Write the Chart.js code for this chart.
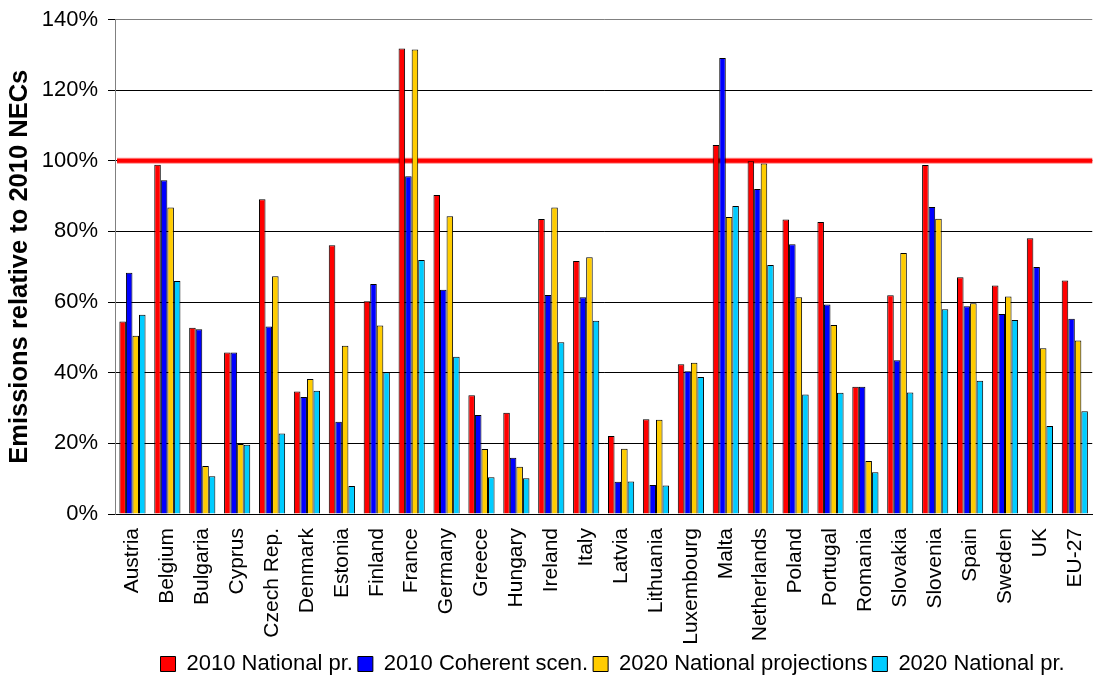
<!DOCTYPE html>
<html>
<head>
<meta charset="utf-8">
<script src="https://cdn.jsdelivr.net/npm/chart.js@4.4.1/dist/chart.umd.min.js"></script>
<style>
  html, body { margin: 0; padding: 0; background: #fff; overflow: hidden; }
  #wrap { width: 1109px; height: 678px; overflow: hidden; }
  canvas { display: block; }
</style>
</head>
<body>
<div id="wrap"><canvas id="c" width="1114" height="685"></canvas></div>
<script>
// Emissions relative to the 2010 national emission ceilings (NECs), in percent
const countries = ['Austria', 'Belgium', 'Bulgaria', 'Cyprus', 'Czech Rep.', 'Denmark', 'Estonia',
  'Finland', 'France', 'Germany', 'Greece', 'Hungary', 'Ireland', 'Italy', 'Latvia', 'Lithuania',
  'Luxembourg', 'Malta', 'Netherlands', 'Poland', 'Portugal', 'Romania', 'Slovakia', 'Slovenia',
  'Spain', 'Sweden', 'UK', 'EU-27'];

const national2010 = [54.5, 98.9, 52.7, 45.7, 89.1, 34.7, 76.1, 60.2, 131.8, 90.3, 33.6, 28.7, 83.5, 71.6,
  22.1, 26.8, 42.4, 104.5, 99.9, 83.4, 82.7, 36.0, 61.9, 98.8, 67.0, 64.7, 78.1, 66.1];
const coherent2010 = [68.3, 94.5, 52.3, 45.7, 53.1, 33.1, 26.1, 65.1, 95.6, 63.5, 28.0, 15.9, 62.0, 61.4,
  9.1, 8.2, 40.4, 129.1, 92.0, 76.4, 59.3, 36.0, 43.5, 86.9, 58.8, 56.6, 69.9, 55.3];
const projections2020 = [50.5, 86.8, 13.6, 19.8, 67.3, 38.2, 47.6, 53.4, 131.5, 84.3, 18.4, 13.4, 86.8, 72.7,
  18.5, 26.7, 42.8, 84.1, 99.2, 61.4, 53.5, 15.0, 73.9, 83.6, 59.7, 61.6, 46.9, 49.1];
const national2020 = [56.4, 66.0, 10.7, 19.6, 22.8, 34.9, 7.9, 40.1, 71.9, 44.5, 10.4, 10.1, 48.6, 54.7,
  9.2, 8.1, 38.8, 87.2, 70.5, 33.8, 34.3, 11.8, 34.4, 58.0, 37.7, 54.9, 24.9, 29.1];

const seriesNames = ['2010 National pr.', '2010 Coherent scen.', '2020 National projections', '2020 National pr.'];
const yTicks = [0, 20, 40, 60, 80, 100, 120, 140];
const ceilingLevel = 100;

const FONT = '"Liberation Sans", Arial, sans-serif';

// Horizontal red reference line at the 100 % ceiling, drawn beneath the bars
const ceilingLine = {
  id: 'ceilingLine',
  beforeDatasetsDraw(chart) {
    const { ctx, chartArea, scales } = chart;
    const y = scales.y.getPixelForValue(ceilingLevel);
    ctx.save();
    ctx.lineCap = 'butt';
    ctx.strokeStyle = 'rgba(255,0,0,0.45)';
    ctx.lineWidth = 6;
    ctx.beginPath();
    ctx.moveTo(chartArea.left + 2, y);
    ctx.lineTo(chartArea.right, y);
    ctx.stroke();
    ctx.strokeStyle = '#ff0000';
    ctx.lineWidth = 4;
    ctx.beginPath();
    ctx.moveTo(chartArea.left + 2, y);
    ctx.lineTo(chartArea.right, y);
    ctx.stroke();
    ctx.restore();
  }
};

// Move the legend row a little right of its default centred spot
const legendShift = {
  id: 'legendShift',
  afterUpdate(chart) {
    if (chart.legend) {
      chart.legend.left += 9;
      chart.legend.right += 9;
    }
  }
};

const colors = ['#ff0000', '#0000ff', '#ffcc00', '#00ccff'];
const values = [national2010, coherent2010, projections2020, national2020];

new Chart(document.getElementById('c'), {
  type: 'bar',
  data: {
    labels: countries,
    datasets: values.map((v, i) => ({
      label: seriesNames[i],
      data: v,
      backgroundColor: colors[i],
      borderColor: '#000',
      borderWidth: 1,
      borderSkipped: 'bottom',
      categoryPercentage: 0.75,
      barPercentage: 1.0
    }))
  },
  options: {
    responsive: false,
    animation: false,
    devicePixelRatio: 1,
    layout: { padding: { left: 0, right: 0, top: 19.5, bottom: 0 } },
    plugins: {
      tooltip: { enabled: false },
      legend: {
        position: 'bottom',
        fullSize: false,
        labels: {
          font: { family: FONT, size: 22 },
          color: '#000',
          boxWidth: 15,
          boxHeight: 15,
          padding: 5
        }
      }
    },
    scales: {
      x: {
        grid: { display: false, drawTicks: false },
        border: { display: true, color: '#000', width: 1 },
        ticks: {
          autoSkip: false,
          maxRotation: 90,
          minRotation: 90,
          padding: 14,
          color: '#000',
          font: { family: FONT, size: 21 }
        },
        afterFit(scale) { scale.height = 134; }
      },
      y: {
        min: 0,
        max: 140,
        afterBuildTicks(scale) { scale.ticks = yTicks.map(v => ({ value: v })); },
        grid: {
          color: ctx => (ctx.tick && ctx.tick.value === 140 ? '#808080' : '#000'),
          lineWidth: 1,
          tickLength: 7,
          tickColor: '#000'
        },
        border: { display: true, color: '#808080', width: 1 },
        ticks: {
          padding: 10,
          color: '#000',
          font: { family: FONT, size: 22 },
          callback: v => v + '%'
        },
        title: {
          display: true,
          text: 'Emissions relative to 2010 NECs',
          color: '#000',
          font: { family: FONT, size: 25.5, weight: 'bold' },
          padding: { top: 5, bottom: 0 }
        },
        afterFit(scale) {
          scale.width = 115;
          scale.paddingTop = 0;
        }
      }
    }
  },
  plugins: [ceilingLine, legendShift]
});
</script>
</body>
</html>
